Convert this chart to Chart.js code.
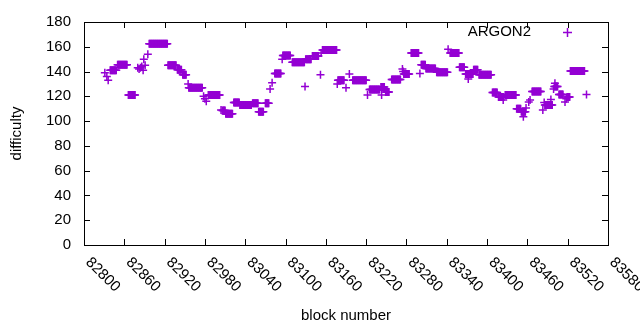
<!DOCTYPE html>
<html>
<head>
<meta charset="utf-8">
<script src="https://cdn.jsdelivr.net/npm/chart.js@4.4.1/dist/chart.umd.min.js"></script>
<style>
  html, body { margin: 0; padding: 0; background: #fff; }
  canvas { display: block; }
</style>
</head>
<body>
<canvas id="chart_diff" width="640" height="330"></canvas>
<script>
// 축 눈금
var xTicks = [82800, 82860, 82920, 82980, 83040, 83100, 83160, 83220, 83280, 83340, 83400, 83460, 83520, 83580];
var yTicks = [0, 20, 40, 60, 80, 100, 120, 140, 160, 180];

// 같은 difficulty 가 이어지는 구간 (첫 블록, 마지막 블록, 값) - 그림에서 읽음
var runStart = [82839, 82850, 82866, 82897, 82925, 82939, 82947, 82956, 82985, 83006,
                83011, 83023, 83032, 83051, 83060, 83070, 83084, 83096, 83110, 83130,
                83140, 83155, 83178, 83200, 83225, 83242, 83249, 83258, 83276, 83287,
                83302, 83309, 83325, 83345, 83359, 83368, 83380, 83388, 83408, 83417,
                83427, 83444, 83451, 83467, 83486, 83500, 83507, 83519, 83524];
var runEnd   = [82848, 82864, 82876, 82924, 82937, 82945, 82952, 82976, 83002, 83010,
                83021, 83031, 83049, 83059, 83067, 83075, 83093, 83107, 83128, 83138,
                83149, 83176, 83187, 83220, 83240, 83247, 83254, 83271, 83284, 83298,
                83308, 83323, 83341, 83358, 83366, 83379, 83386, 83406, 83415, 83425,
                83443, 83450, 83457, 83480, 83497, 83505, 83513, 83523, 83545];
var runValue = [141, 145.5, 121, 162.5, 145, 141.5, 137.5, 127, 121, 108.5,
                106, 115, 113, 114.5, 107.5, 114.5, 138.5, 153, 147.5, 150,
                152.5, 157.5, 133, 133, 125.5, 127.5, 123.5, 133.5, 138, 155,
                145.5, 142.5, 139.5, 155, 143.5, 138, 141.5, 137.5, 123, 119.5,
                121, 110, 107.5, 124, 113, 128, 121.5, 119.5, 140.5];

// 따로 떨어진 점들
var singleBlock = [82831, 82834, 82836, 82880, 82882, 82884, 82886, 82888, 82889, 82891,
                   82895, 82955, 82978, 82980, 82982, 83004, 83077, 83080, 83095, 83129,
                   83152, 83153, 83177, 83190, 83195, 83222, 83243, 83274, 83275, 83300,
                   83342, 83372, 83424, 83454, 83458, 83462, 83464, 83483, 83485, 83495,
                   83499, 83501, 83516, 83518, 83548];
var singleValue = [139, 136, 133, 143, 142, 143, 144, 141, 150, 145,
                   154, 130, 120, 118, 116, 109, 126, 131, 150, 128,
                   137.5, 155, 130, 127, 138, 121, 121, 142, 140, 138.5,
                   158, 134, 117, 103.5, 110.5, 115.5, 117, 109, 115, 117.5,
                   126, 130.5, 115.5, 118, 121.5];

var seriesName = "ARGON2";
var mainColor = "#9400d3";
var fontName = "'Liberation Sans', Arial, sans-serif";

// 점 데이터 만들기 (블록마다 한 점)
var points = [];
for (var i = 0; i < runStart.length; i++) {
    for (var b = runStart[i]; b <= runEnd[i]; b++) {
        points.push({ x: b, y: runValue[i] });
    }
}
for (var j = 0; j < singleBlock.length; j++) {
    points.push({ x: singleBlock[j], y: singleValue[j] });
}

// 테두리, 안쪽 눈금, x 라벨, 축 제목, 범례
var gnuplotFrame = {
    id: "gnuplotFrame",
    afterDraw: function (chart) {
        var ctx = chart.ctx;
        var area = chart.chartArea;
        var xs = chart.scales.x;
        var ys = chart.scales.y;
        var tl = 6;

        ctx.save();
        ctx.strokeStyle = "#000";
        ctx.lineWidth = 1;
        ctx.strokeRect(area.left + 0.5, area.top + 0.5, area.right - area.left, area.bottom - area.top);

        ctx.beginPath();
        xTicks.forEach(function (t) {
            var px = Math.round(xs.getPixelForValue(t)) + 0.5;
            ctx.moveTo(px, area.bottom);
            ctx.lineTo(px, area.bottom - tl);
            ctx.moveTo(px, area.top);
            ctx.lineTo(px, area.top + tl);
        });
        yTicks.forEach(function (t) {
            var py = Math.round(ys.getPixelForValue(t)) + 0.5;
            ctx.moveTo(area.left, py);
            ctx.lineTo(area.left + tl, py);
            ctx.moveTo(area.right, py);
            ctx.lineTo(area.right - tl, py);
        });
        ctx.stroke();

        // x 라벨 (오른쪽 아래로 45도)
        ctx.fillStyle = "#000";
        ctx.font = "15px " + fontName;
        ctx.textAlign = "left";
        ctx.textBaseline = "middle";
        xTicks.forEach(function (t) {
            var px = xs.getPixelForValue(t);
            ctx.save();
            ctx.translate(px + 4, area.bottom + 15);
            ctx.rotate(Math.PI / 4);
            ctx.fillText(String(t), 0, 0);
            ctx.restore();
        });

        // 축 제목
        ctx.textAlign = "center";
        ctx.fillText("block number", (area.left + area.right) / 2, 316);
        ctx.save();
        ctx.translate(17, (area.top + area.bottom) / 2);
        ctx.rotate(-Math.PI / 2);
        ctx.fillText("difficulty", 0, 0);
        ctx.restore();

        // 범례
        ctx.textAlign = "right";
        ctx.fillText(seriesName, 531, 32);
        ctx.strokeStyle = mainColor;
        ctx.lineWidth = 1.5;
        ctx.beginPath();
        ctx.moveTo(563, 32.5);
        ctx.lineTo(572, 32.5);
        ctx.moveTo(567.5, 28);
        ctx.lineTo(567.5, 37);
        ctx.stroke();
        ctx.restore();
    }
};

var Chart_diff = new Chart(document.getElementById("chart_diff"), {
    type: "scatter",
    data: {
        datasets: [{
            label: seriesName,
            data: points,
            pointStyle: "cross",
            pointRadius: 4,
            pointHoverRadius: 4,
            borderColor: mainColor,
            backgroundColor: mainColor,
            borderWidth: 1.5
        }]
    },
    options: {
        responsive: false,
        animation: false,
        layout: { padding: { top: 19, right: 32, bottom: 0, left: 0 } },
        plugins: {
            legend: { display: false },
            tooltip: { enabled: false }
        },
        scales: {
            x: {
                type: "linear",
                min: 82800,
                max: 83580,
                ticks: { stepSize: 60, display: false },
                grid: { display: false },
                border: { display: false },
                afterFit: function (scale) { scale.height = 85; }
            },
            y: {
                min: 0,
                max: 180,
                ticks: {
                    stepSize: 20,
                    padding: 13,
                    color: "#000",
                    font: { family: fontName, size: 15 }
                },
                grid: { display: false, drawTicks: false },
                border: { display: false },
                afterFit: function (scale) { scale.width = 84; }
            }
        }
    },
    plugins: [gnuplotFrame]
});
</script>
</body>
</html>
